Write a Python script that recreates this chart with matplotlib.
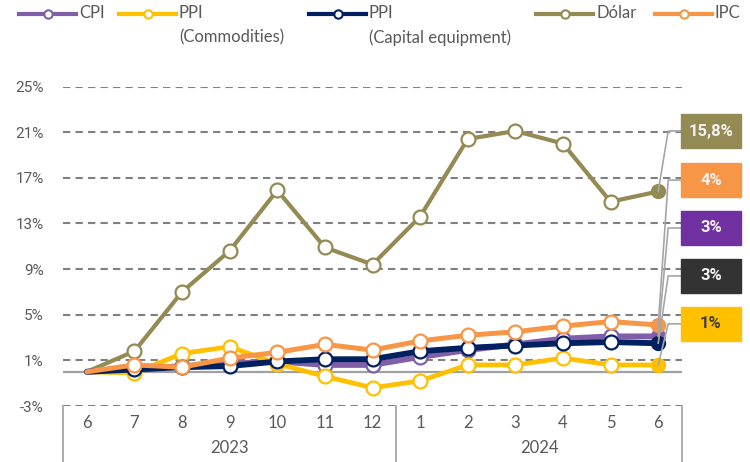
import matplotlib
matplotlib.use('Agg')
import matplotlib.pyplot as plt
from matplotlib.lines import Line2D
from matplotlib.patches import Rectangle

# datos (% acumulado desde jun-2023)
meses = ['6', '7', '8', '9', '10', '11', '12', '1', '2', '3', '4', '5', '6']
anios = ['2023', '2024']
dolar = [0, 1.8, 7.0, 10.6, 15.9, 10.9, 9.4, 13.6, 20.4, 21.1, 20.0, 14.9, 15.8]
cpi = [0, 0.2, 0.5, 0.7, 0.9, 0.6, 0.6, 1.3, 1.9, 2.4, 2.9, 3.1, 3.1]
ppi_comm = [0, -0.1, 1.6, 2.2, 0.7, -0.4, -1.4, -0.8, 0.6, 0.6, 1.2, 0.6, 0.6]
ppi_cap = [0, 0.2, 0.4, 0.5, 0.9, 1.1, 1.1, 1.8, 2.1, 2.3, 2.5, 2.6, 2.5]
ipc = [0, 0.6, 0.4, 1.2, 1.7, 2.4, 1.9, 2.7, 3.2, 3.5, 4.0, 4.4, 4.1]

yticks = [-3, 1, 5, 9, 13, 17, 21, 25]
etiquetas = ['15,8%', '4%', '3%', '3%', '1%']
etiq_y = [21.1, 16.8, 12.6, 8.4, 4.2]

c_cpi = '#7F60A8'
c_comm = '#FFC000'
c_cap = '#002060'
c_dol = '#948A54'
c_ipc = '#F79646'
gris = '#595959'
narrow = ['Lato', 'DejaVu Sans']

plt.rcParams['font.family'] = ['Roboto', 'DejaVu Sans']

fig = plt.figure(figsize=(7.5, 4.62), dpi=100)
ax = fig.add_axes([63 / 750, 1 - 406 / 462, 619 / 750, 319.5 / 462])
x = list(range(len(meses)))

# grilla
for t in yticks:
    ax.axhline(t, color='#808080', lw=1.5, ls=(0, (3.5, 2.5)), zorder=1)
ax.axhline(0, color='#A0A0A0', lw=1.6, zorder=1)

series = [
    (dolar, c_dol, 3.0, 'Dólar'),
    (cpi, c_cpi, 4.2, 'CPI'),
    (ppi_comm, c_comm, 3.4, 'PPI\n(Commodities)'),
    (ppi_cap, c_cap, 4.2, 'PPI\n(Capital equipment)'),
    (ipc, c_ipc, 3.6, 'IPC'),
]
for i, (vals, col, lw, lab) in enumerate(series):
    ax.plot(x, vals, color=col, lw=lw, zorder=3 + i,
            marker='o', ms=10, mfc='white', mec=col, mew=1.6,
            markevery=list(range(1, len(vals) - 1)), solid_capstyle='round')
    ax.plot(x[-1], vals[-1], 'o', color=col, ms=10, zorder=3 + i)

ax.set_xlim(-0.5, 12.5)
ax.set_ylim(-3, 25)
ax.set_yticks(yticks)
ax.set_yticklabels([f'{t}%' for t in yticks], color=gris, fontsize=11)
ax.tick_params(axis='y', length=0, pad=14)
ax.set_xticks([])
for s in ax.spines.values():
    s.set_visible(False)

# eje de categorias (mes / anio)
tr = ax.get_xaxis_transform()
for i, m in enumerate(meses):
    ax.text(i, -0.052, m, transform=tr, ha='center', va='center',
            fontsize=12, color=gris, family=narrow)
ax.text(3, -0.133, anios[0], transform=tr, ha='center', va='center',
        fontsize=12, color=gris, family=narrow)
ax.text(9.5, -0.133, anios[1], transform=tr, ha='center', va='center',
        fontsize=12, color=gris, family=narrow)
for xv in [-0.5, 6.5, 12.5]:
    ax.plot([xv, xv], [0, -0.18], transform=tr, color='#A6A6A6', lw=1.3,
            clip_on=False, zorder=2)

# etiquetas a la derecha
finales = [dolar[-1], ipc[-1], cpi[-1], ppi_cap[-1], ppi_comm[-1]]
cajas = [c_dol, c_ipc, '#7030A0', '#333333', c_comm]
textos = ['#F2F2F2', '#F2F2F2', '#F2F2F2', '#F2F2F2', '#404040']
for v, ly, lab, cc, tc in zip(finales, etiq_y, etiquetas, cajas, textos):
    ax.plot([12, 12.21, 12.49], [v, ly, ly], color='#A6A6A6', lw=1.2,
            clip_on=False, zorder=9)
    ax.add_patch(Rectangle((12.485, ly - 1.48), 1.255, 2.96, color=cc,
                           clip_on=False, zorder=10))
    ax.text(13.11, ly, lab, ha='center', va='center', fontsize=12,
            fontweight='bold', color=tc, zorder=11)

# leyenda
leyenda = [(cpi, c_cpi, 'CPI', 19), (ppi_comm, c_comm, 'PPI\n(Commodities)', 119),
           (ppi_cap, c_cap, 'PPI\n(Capital equipment)', 309),
           (dolar, c_dol, 'Dólar', 536), (ipc, c_ipc, 'IPC', 655)]
for vals, col, lab, x0 in leyenda:
    yy = 1 - 13.5 / 462
    fig.add_artist(Line2D([x0 / 750, (x0 + 57) / 750], [yy, yy], color=col, lw=3))
    fig.add_artist(Line2D([(x0 + 28.5) / 750], [yy], color=col, marker='o',
                          ms=6, mfc='white', mew=1.5))
    for k, linea in enumerate(lab.split('\n')):
        fig.text((x0 + 60) / 750, 1 - (13.5 + 24 * k) / 462, linea,
                 ha='left', va='center', fontsize=12, color=gris, family=narrow)

fig.savefig('out.png', dpi=100)
